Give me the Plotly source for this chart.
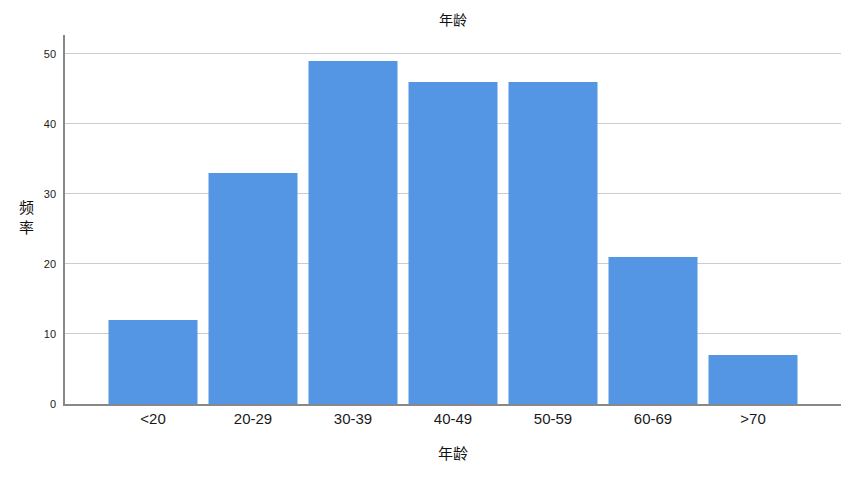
import plotly.graph_objects as go

categories = ["<20", "20-29", "30-39", "40-49", "50-59", "60-69", ">70"]
counts = [12, 33, 49, 46, 46, 21, 7]
y_ticks = [0, 10, 20, 30, 40, 50]

font_family = "Liberation Sans, Arial, Noto Sans CJK SC, sans-serif"

W, H = 835, 485
L, T = 57, 27
R = W - 833
B = H - 396

fig = go.Figure(go.Bar(
    x=list(range(len(categories))),
    y=counts,
    width=0.89,
    marker=dict(color="#5596e4", line=dict(width=0)),
))

fig.update_layout(
    width=W, height=H,
    paper_bgcolor="white", plot_bgcolor="white",
    margin=dict(l=L, r=R, t=T, b=B),
    showlegend=False,
    font=dict(family=font_family, color="#222222"),
    title=dict(text="年龄", x=(L + 776 / 2) / W, xanchor="center", y=1 - 12 / H, yanchor="middle",
               font=dict(size=14, family="Noto Sans CJK SC", color="#111111")),
)
fig.update_xaxes(
    range=[-0.88, 6.88],
    tickmode="array", tickvals=list(range(len(categories))), ticktext=categories,
    showline=True, linecolor="#888888", linewidth=1.5,
    showgrid=False, zeroline=False, ticks="",
    tickfont=dict(size=15, color="#1a1a1a"),
    title=dict(text="年龄", font=dict(size=15, family="Noto Sans CJK SC", color="#111111"), standoff=23),
)
fig.update_yaxes(
    range=[0, 52.71],
    tickmode="array", tickvals=y_ticks,
    showline=True, linecolor="#888888", linewidth=1.5,
    showgrid=True, gridcolor="#cccccc", gridwidth=1,
    zeroline=False, ticks="", ticklabelstandoff=5,
    tickfont=dict(size=11, color="#1a1a1a"),
)
fig.add_annotation(
    text="频<br>率", xref="paper", yref="paper",
    x=-(65 - 26) / 776, y=(404 - 216) / 369, xanchor="center", yanchor="middle",
    showarrow=False, font=dict(size=15, family="Noto Sans CJK SC", color="#111111"),
)

fig.write_html("out.html")
